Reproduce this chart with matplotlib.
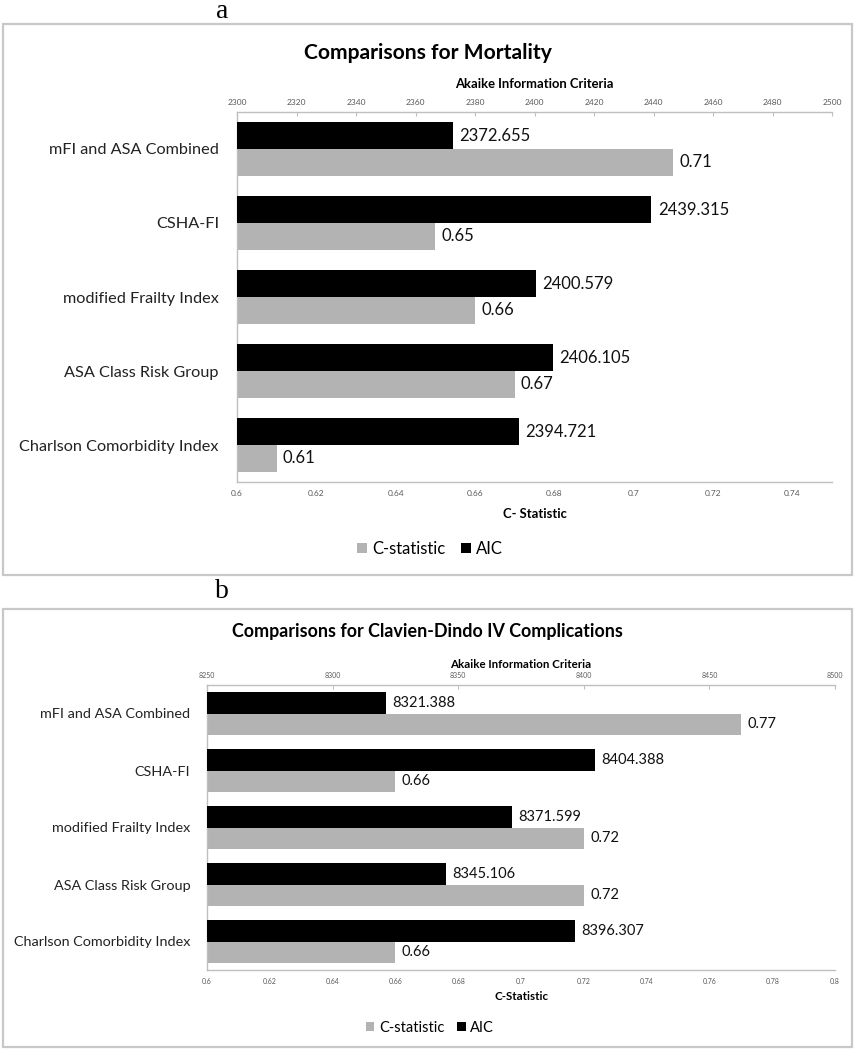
import matplotlib
matplotlib.use("Agg")
import matplotlib.pyplot as plt
from matplotlib.patches import Rectangle, Patch
import numpy as np

plt.rcParams['font.family'] = ['Lato', 'DejaVu Sans']

# ---------------- data ----------------
categories = ["mFI and ASA Combined", "CSHA-FI", "modified Frailty Index",
              "ASA Class Risk Group", "Charlson Comorbidity Index"]

mort_aic = [2372.655, 2439.315, 2400.579, 2406.105, 2394.721]
mort_cstat = [0.71, 0.65, 0.66, 0.67, 0.61]
mort_aic_ticks = [2300, 2320, 2340, 2360, 2380, 2400, 2420, 2440, 2460, 2480, 2500]
mort_c_ticks = [0.6, 0.62, 0.64, 0.66, 0.68, 0.7, 0.72, 0.74]

cd_aic = [8321.388, 8404.388, 8371.599, 8345.106, 8396.307]
cd_cstat = [0.77, 0.66, 0.72, 0.72, 0.66]
cd_aic_ticks = [8250, 8300, 8350, 8400, 8450, 8500]
cd_c_ticks = [0.6, 0.62, 0.64, 0.66, 0.68, 0.7, 0.72, 0.74, 0.76, 0.78, 0.8]

series_names = ["C-statistic", "AIC"]

# ---------------- layout helpers ----------------
W, H = 855, 1050
fig = plt.figure(figsize=(W / 100, H / 100), dpi=100)
fig.patch.set_facecolor("white")


def fx(x):
    return x / W


def fy(y):
    return 1 - y / H


GRAY = "#B3B3B3"
SPINE = "#BFBFBF"
TICKC = "#595959"


def panel(box, ax_px, aic, cstat, aic_ticks, c_ticks, c_lim, title, cname,
          letter, letter_xy, title_y, aic_title_y, c_title_y, legend_y,
          fs_cat, fs_val, fs_tick, fs_title, fs_axt, fs_leg, bh, catpad):
    # frame
    x0, y0, x1, y1 = box
    fig.add_artist(Rectangle((fx(x0), fy(y1)), fx(x1) - fx(x0), fy(y0) - fy(y1),
                             transform=fig.transFigure, fill=False,
                             edgecolor="#C8C8C8", lw=1.6))
    fig.text(fx(letter_xy[0]), fy(letter_xy[1]), letter, family="Liberation Serif",
             fontsize=20, ha="center", va="center")
    fig.text(fx((x0 + x1) / 2), fy(title_y), title, fontsize=fs_title,
             fontweight="bold", ha="center", va="center")

    l, t, r, b = ax_px
    ax = fig.add_axes([fx(l), fy(b), fx(r) - fx(l), fy(t) - fy(b)])
    ax2 = ax.twiny()
    y = np.arange(len(categories))

    ax.barh(y + bh / 2, cstat, height=bh, color=GRAY, left=0, zorder=2)
    ax2.barh(y - bh / 2, aic, height=bh, color="black", zorder=2)

    ax.set_xlim(c_lim)
    ax2.set_xlim(aic_ticks[0], aic_ticks[-1])
    ax.set_ylim(len(categories) - 0.5, -0.5)

    for yi, v in zip(y, cstat):
        ax.annotate(f"{v:.2f}", (v, yi + bh / 2), xytext=(4.5, 0),
                    textcoords="offset points", va="center", ha="left",
                    fontsize=fs_val, color="#111111")
    for yi, v in zip(y, aic):
        ax2.annotate(f"{v:.3f}", (v, yi - bh / 2), xytext=(4.5, 0),
                     textcoords="offset points", va="center", ha="left",
                     fontsize=fs_val, color="#111111")

    ax.set_yticks(y)
    ax.set_yticklabels(categories, fontsize=fs_cat, color="#222222")
    ax.tick_params(axis="y", length=0, pad=catpad)

    ax.set_xticks(c_ticks)
    ax.set_xticklabels([f"{v:g}" for v in c_ticks], fontsize=fs_tick, color=TICKC)
    ax.tick_params(axis="x", length=0, pad=6)

    ax2.set_xticks(aic_ticks)
    ax2.set_xticklabels([f"{v:g}" for v in aic_ticks], fontsize=fs_tick, color=TICKC)
    ax2.tick_params(axis="x", direction="in", length=3, color=SPINE, pad=4)

    for s in ["top", "right"]:
        ax.spines[s].set_visible(False)
    for s in ["left", "bottom"]:
        ax.spines[s].set_color(SPINE)
        ax.spines[s].set_linewidth(1.0)
    for s in ["left", "right", "bottom"]:
        ax2.spines[s].set_visible(False)
    ax2.spines["top"].set_color(SPINE)
    ax2.spines["top"].set_linewidth(1.0)

    cx = (l + r) / 2
    fig.text(fx(cx), fy(aic_title_y), "Akaike Information Criteria",
             fontsize=fs_axt, fontweight="bold", ha="center", va="center")
    fig.text(fx(cx), fy(c_title_y), cname, fontsize=fs_axt,
             fontweight="bold", ha="center", va="center")

    handles = [Patch(facecolor=GRAY, edgecolor="none"),
               Patch(facecolor="black", edgecolor="none")]
    fig.legend(handles, series_names, loc="center", ncol=2, frameon=False,
               bbox_to_anchor=(fx(430), fy(legend_y)), fontsize=fs_leg,
               handlelength=0.6, handleheight=0.6, handletextpad=0.3,
               columnspacing=0.9, borderpad=0)
    return ax, ax2


panel(box=(3, 24, 852, 575), ax_px=(237, 112, 832, 482),
      aic=mort_aic, cstat=mort_cstat, aic_ticks=mort_aic_ticks,
      c_ticks=mort_c_ticks, c_lim=(0.6, 0.75),
      title="Comparisons for Mortality", cname="C- Statistic",
      letter="a", letter_xy=(222, 12), title_y=53, aic_title_y=84,
      c_title_y=514, legend_y=549,
      fs_cat=11.7, fs_val=12, fs_tick=6, fs_title=15.2, fs_axt=9.4,
      fs_leg=12, bh=0.36, catpad=13)

panel(box=(3, 609, 852, 1047), ax_px=(207, 685, 835, 970),
      aic=cd_aic, cstat=cd_cstat, aic_ticks=cd_aic_ticks,
      c_ticks=cd_c_ticks, c_lim=(0.6, 0.8),
      title="Comparisons for Clavien-Dindo IV Complications", cname="C-Statistic",
      letter="b", letter_xy=(222, 592), title_y=632, aic_title_y=664,
      c_title_y=997, legend_y=1028,
      fs_cat=10.4, fs_val=10.5, fs_tick=5, fs_title=12.9, fs_axt=8.3,
      fs_leg=10.5, bh=0.37, catpad=12)

fig.savefig("out.png", dpi=100, facecolor="white")
